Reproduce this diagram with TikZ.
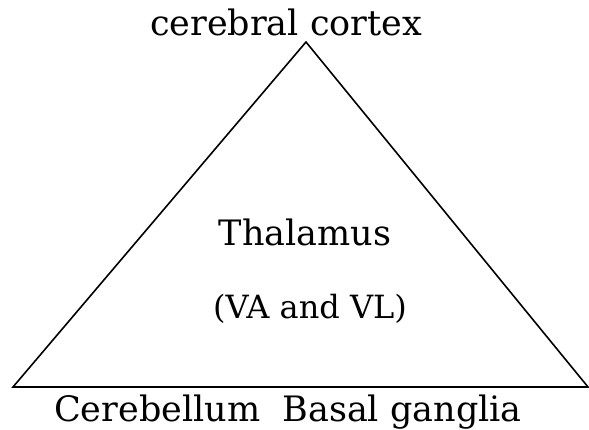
\documentclass[tikz,border=0pt]{standalone}
\usepackage{fontspec}
\setmainfont{DejaVu Serif}
\usetikzlibrary{positioning}

\begin{document}
\begin{tikzpicture}[
  lbl/.style={inner sep=0pt,anchor=base,font=\fontsize{35}{40}\selectfont},
  edge/.style={black,line width=1.6pt,line join=miter}
]
\useasboundingbox (0,0) rectangle (589pt,430pt);
% Triangle corners
\coordinate (apex) at (306pt,388pt);
\coordinate (bl) at (13pt,43pt);
\coordinate (br) at (588pt,43pt);
\draw[edge] (apex) -- (bl) -- (br) -- cycle;

% Labels
\node[lbl] (cortex) at (286pt,394pt) {cerebral cortex};
\node[lbl] (thal) at (305pt,184pt) {Thalamus};
\node[lbl,font=\fontsize{32}{38}\selectfont] (vavl) at (310pt,111pt) {(VA and VL)};
\node[lbl] (bottom) at (288pt,8pt) {Cerebellum\ \ Basal ganglia};
\end{tikzpicture}
\end{document}
